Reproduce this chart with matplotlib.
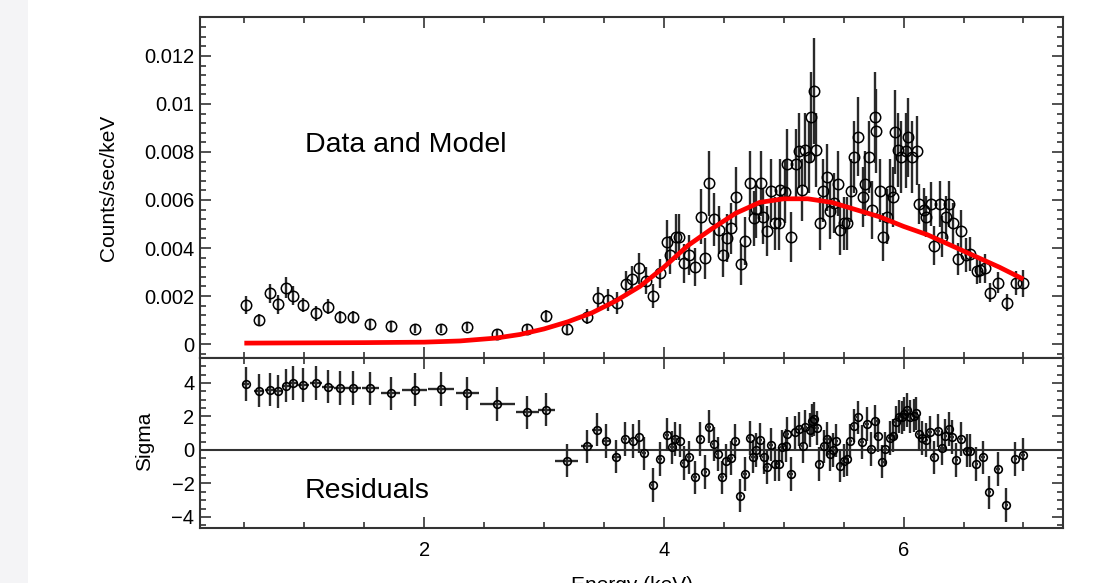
import matplotlib
matplotlib.use("Agg")
import matplotlib.pyplot as plt
from matplotlib.ticker import MultipleLocator, FixedLocator, FixedFormatter
from matplotlib.patches import Rectangle

# ---------------- data ----------------
energy = [0.51, 0.62, 0.71, 0.78, 0.85, 0.91, 0.99, 1.10, 1.20, 1.30, 1.41, 1.55, 1.72, 1.92,
          2.14, 2.36, 2.61, 2.86, 3.02, 3.19, 3.36, 3.45,
          3.53, 3.61, 3.68, 3.73, 3.79, 3.85, 3.91, 3.97, 4.03, 4.05,
          4.10, 4.13, 4.17, 4.21, 4.26, 4.31, 4.34, 4.38, 4.42, 4.46,
          4.49, 4.53, 4.56, 4.60, 4.64, 4.68, 4.72, 4.75, 4.77, 4.81,
          4.83, 4.86, 4.89, 4.93, 4.96, 4.97, 5.01, 5.03, 5.06, 5.10,
          5.13, 5.15, 5.18, 5.21, 5.23, 5.25, 5.27, 5.30, 5.33, 5.36,
          5.39, 5.42, 5.45, 5.47, 5.50, 5.53, 5.56, 5.59, 5.62, 5.66,
          5.68, 5.71, 5.74, 5.76, 5.77, 5.80, 5.83, 5.86, 5.89, 5.91,
          5.93, 5.95, 5.98, 6.02, 6.04, 6.07, 6.11,
          6.13, 6.17, 6.19, 6.23, 6.25, 6.30, 6.32, 6.35, 6.38, 6.41,
          6.45, 6.48, 6.52, 6.55, 6.61, 6.64, 6.68, 6.72, 6.79, 6.86, 6.94, 7.00]

counts_milli = [1.63, 1.00, 2.11, 1.65, 2.35, 2.01, 1.63, 1.28, 1.56, 1.11, 1.11, 0.82, 0.75, 0.64,
                0.64, 0.71, 0.44, 0.64, 1.17, 0.61, 1.14, 1.92,
                1.83, 1.70, 2.50, 2.69, 3.15, 2.64, 2.01, 2.94, 4.26, 3.71,
                4.47, 4.47, 3.36, 3.71, 3.22, 5.30, 3.57, 6.69, 5.19, 4.75,
                3.71, 4.40, 4.82, 6.11, 3.33, 4.29, 6.69, 5.24, 5.61, 6.69,
                5.30, 4.72, 6.39, 5.03, 5.03, 6.42, 6.35, 7.50, 4.47, 7.50,
                8.06, 6.42, 8.08, 7.81, 9.44, 10.54, 8.08, 5.03, 6.39, 6.94,
                5.56, 5.86, 6.67, 4.75, 5.03, 5.03, 6.39, 7.81, 8.64, 6.11,
                6.67, 7.81, 5.58, 9.44, 8.89, 6.39, 4.47, 5.30, 6.39, 6.11,
                8.85, 8.08, 7.81, 8.06, 8.61, 7.81, 8.06,
                5.83, 5.58, 5.30, 5.83, 4.10, 5.83, 4.47, 5.28, 5.83, 5.03,
                3.54, 4.72, 3.71, 3.75, 3.06, 3.08, 3.15, 2.14, 2.56, 1.72, 2.53, 2.53]

counts_err_milli = [0.36, 0.25, 0.40, 0.40, 0.45, 0.40, 0.30, 0.30, 0.30, 0.25, 0.25, 0.20, 0.20, 0.18,
                    0.18, 0.18, 0.15, 0.18, 0.25, 0.20, 0.30, 0.45,
                    0.45, 0.45, 0.55, 0.55, 0.65, 0.55, 0.50, 0.60, 0.90, 0.80,
                    0.95, 0.95, 0.80, 0.85, 0.80, 1.15, 0.85, 1.35, 1.10, 1.00,
                    0.90, 1.00, 1.05, 1.25, 0.85, 1.00, 1.35, 1.15, 1.20, 1.35,
                    1.15, 1.05, 1.30, 1.10, 1.10, 1.30, 1.30, 1.45, 1.05, 1.45,
                    1.55, 1.30, 1.55, 1.50, 1.90, 2.20, 1.55, 1.10, 1.30, 1.40,
                    1.20, 1.25, 1.35, 1.05, 1.10, 1.10, 1.30, 1.50, 1.65, 1.25,
                    1.35, 1.50, 1.20, 1.90, 1.75, 1.30, 1.00, 1.15, 1.30, 1.25,
                    1.75, 1.55, 1.50, 1.55, 1.65, 1.50, 1.45,
                    0.85, 0.90, 0.85, 0.90, 0.80, 0.95, 0.85, 0.90, 0.95, 0.85,
                    0.65, 0.85, 0.70, 0.70, 0.55, 0.55, 0.60, 0.40, 0.45, 0.35, 0.50, 0.55]

model_energy = [0.5, 1.0, 1.5, 2.0, 2.3, 2.6, 2.8, 3.0, 3.2, 3.4, 3.6, 3.8, 4.0, 4.2,
                4.4, 4.6, 4.8, 5.0, 5.2, 5.4, 5.6, 5.8, 6.0, 6.2, 6.4, 6.6, 6.8, 7.0]
model_milli = [0.04, 0.05, 0.06, 0.08, 0.13, 0.25, 0.40, 0.63, 0.93, 1.30, 1.80, 2.40, 3.20, 4.10,
               4.80, 5.45, 5.90, 6.05, 6.05, 5.90, 5.60, 5.30, 4.90, 4.55, 4.10, 3.65, 3.20, 2.70]

res_energy = [0.51, 0.62, 0.71, 0.78, 0.85, 0.91, 0.99, 1.10, 1.20, 1.30, 1.41, 1.55, 1.72, 1.92,
              2.14, 2.36, 2.61, 2.86, 3.02, 3.19, 3.36, 3.44, 3.52, 3.60,
              3.678, 3.739, 3.789, 3.836, 3.906, 3.970, 4.026, 4.068, 4.095, 4.131,
              4.164, 4.212, 4.262, 4.304, 4.346, 4.379, 4.415, 4.448, 4.487, 4.521,
              4.560, 4.596, 4.638, 4.679, 4.715, 4.744, 4.771, 4.805, 4.832, 4.861,
              4.894, 4.930, 4.957, 4.986, 5.019, 5.028, 5.063, 5.097, 5.130, 5.158,
              5.180, 5.216, 5.236, 5.250, 5.278, 5.297, 5.333, 5.361, 5.383, 5.412,
              5.439, 5.472, 5.500, 5.528, 5.556, 5.583, 5.617, 5.654, 5.695, 5.729,
              5.765, 5.784, 5.823, 5.848, 5.884, 5.912, 5.934, 5.959, 5.987, 6.007,
              6.029, 6.051, 6.084, 6.107, 6.126, 6.154, 6.190, 6.218, 6.251, 6.288,
              6.321, 6.349, 6.376, 6.405, 6.441, 6.480, 6.530, 6.558, 6.608, 6.664,
              6.716, 6.786, 6.858, 6.933, 6.998]

res_sigma = [3.94, 3.54, 3.60, 3.50, 3.84, 4.00, 3.88, 4.00, 3.78, 3.70, 3.70, 3.68, 3.38, 3.60,
             3.64, 3.38, 2.75, 2.25, 2.41, -0.64, 0.22, 1.21, 0.52, -0.40,
             0.66, 0.52, 0.80, -0.20, -2.09, -0.54, 0.92, 0.16, 0.66, 0.56,
             -0.78, -0.44, -1.63, 0.66, -1.33, 1.39, 0.36, -0.24, -1.63, -0.64,
             -0.48, 0.52, -2.73, -1.43, 0.72, -0.40, 0.00, 0.60, -0.44, -1.03,
             0.32, -0.84, -0.84, 0.20, 0.26, 0.96, -1.43, 1.05, 1.25, 0.22,
             1.39, 1.19, 1.75, 1.85, 1.31, -0.84, 0.22, 0.66, -0.24, 0.00,
             0.56, -0.94, -0.64, -0.54, 0.52, 1.45, 1.95, 0.46, 1.55, 0.06,
             1.71, 0.86, -0.70, 0.06, 0.72, 0.86, 1.65, 1.99, 1.95, 2.15,
             2.39, 1.99, 2.05, 2.19, 0.96, 0.72, 0.60, 1.05, -0.44, 1.15,
             0.12, 0.86, 1.25, 0.76, -0.60, 0.66, -0.04, -0.04, -0.84, -0.44,
             -2.53, -1.13, -3.28, -0.54, -0.28]

res_xerr_low = [0.03, 0.04, 0.04, 0.04, 0.04, 0.04, 0.05, 0.05, 0.05, 0.05, 0.06, 0.07, 0.08, 0.105,
                0.11, 0.095, 0.145, 0.095, 0.07, 0.095, 0.05, 0.04, 0.035, 0.035]
res_xerr_dense = 0.015

top_yticks = [0, 0.002, 0.004, 0.006, 0.008, 0.010, 0.012]
top_yticklabels = ["0", "0.002", "0.004", "0.006", "0.008", "0.01", "0.012"]
res_yticks = [-4, -2, 0, 2, 4]
x_ticks = [2, 4, 6]

# ---------------- figure ----------------
FONT = "Liberation Sans"
plt.rcParams["font.family"] = [FONT, "DejaVu Sans"]

W, H = 1113, 583
fig = plt.figure(figsize=(W / 100, H / 100), dpi=100)
fig.patches.append(Rectangle((0, 0), 28 / W, 1, transform=fig.transFigure,
                             facecolor="#f4f4f6", edgecolor="none", zorder=-10))

L, R = 200 / W, 1063 / W
ax1 = fig.add_axes([L, 1 - 358 / H, R - L, (358 - 17) / H])
ax2 = fig.add_axes([L, 1 - 528 / H, R - L, (528 - 358) / H], sharex=ax1)

scale = 1e-3
y = [v * scale for v in counts_milli]
yerr = [v * scale for v in counts_err_milli]
model = [v * scale for v in model_milli]

ecol = "#2a2a2a"
ax1.errorbar(energy, y, yerr=yerr, fmt="o", ms=7.5, mfc="none", mec="black", mew=1.1,
             ecolor=ecol, elinewidth=1.7, capsize=0, zorder=3)
ax1.plot(model_energy, model, color="#ff0000", lw=3.4, solid_capstyle="butt", zorder=5)

res_xerr = res_xerr_low + [res_xerr_dense] * (len(res_energy) - len(res_xerr_low))
ax2.axhline(0, color="#333333", lw=1.5, zorder=1)
ax2.errorbar(res_energy, res_sigma, yerr=1.0, xerr=res_xerr, fmt="o", ms=5.5, mfc="none",
             mec="black", mew=1.2, ecolor=ecol, elinewidth=1.7, capsize=0, zorder=3)

ax1.set_xlim(0.13, 7.33)
ax1.set_ylim(-0.00058, 0.01362)
ax2.set_ylim(-4.66, 5.49)

for ax in (ax1, ax2):
    for s in ax.spines.values():
        s.set_linewidth(1.5)
        s.set_color("#333333")
    ax.tick_params(which="both", direction="in", top=True, right=True, color="#333333",
                   labelsize=14.5, width=1.2)
    ax.tick_params(which="major", length=8)
    ax.tick_params(which="minor", length=4)
    ax.xaxis.set_major_locator(FixedLocator(x_ticks))
    ax.xaxis.set_minor_locator(MultipleLocator(0.5))

ax1.yaxis.set_major_locator(FixedLocator(top_yticks))
ax1.yaxis.set_major_formatter(FixedFormatter(top_yticklabels))
ax1.yaxis.set_minor_locator(MultipleLocator(0.0004))
ax1.tick_params(axis="x", labelbottom=False)
ax1.tick_params(axis="y", pad=4)

ax2.yaxis.set_major_locator(FixedLocator(res_yticks))
ax2.yaxis.set_minor_locator(MultipleLocator(0.5))
ax2.tick_params(axis="y", pad=4)
ax2.tick_params(axis="x", pad=9)

ax1.set_ylabel("Counts/sec/keV", fontsize=15)
ax1.yaxis.set_label_coords(-0.095, 0.4985)
ax2.set_ylabel("Sigma", fontsize=15)
ax2.yaxis.set_label_coords(-0.053, 0.512)

ax1.text(0.1217, 0.604, "Data and Model", transform=ax1.transAxes, fontsize=20.5,
         ha="left", va="baseline")
ax2.text(0.1217, 0.176, "Residuals", transform=ax2.transAxes, fontsize=20.5,
         ha="left", va="baseline")

fig.text(632 / W, 1 - 576 / H, "Energy (keV)", fontsize=15, ha="center", va="top")

fig.savefig("out.png", dpi=100)
